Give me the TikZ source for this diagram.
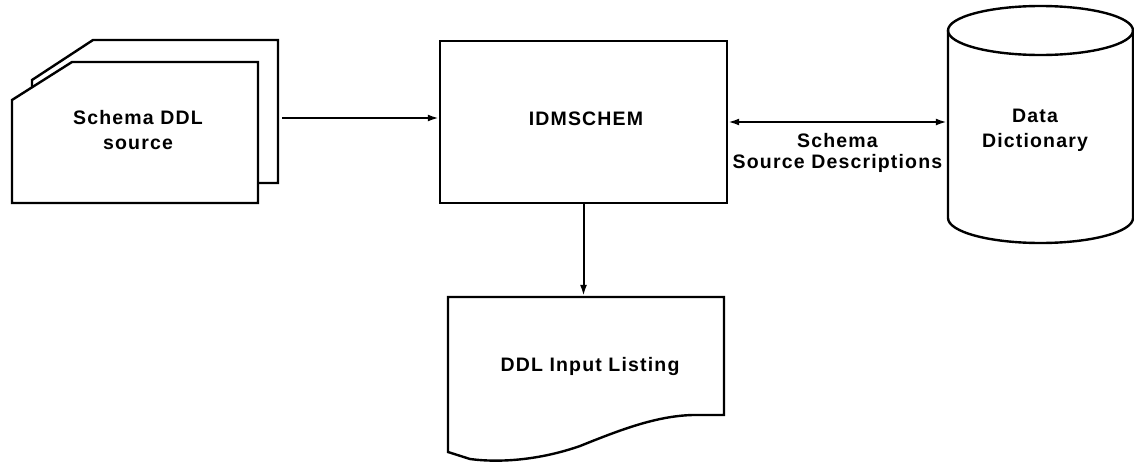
\documentclass[tikz,border=0pt]{standalone}
\usepackage{fontspec}
\setmainfont{Liberation Sans}[LetterSpace=6]
\usetikzlibrary{arrows.meta}
\begin{document}
\begin{tikzpicture}[x=1pt,y=-1pt,
  line width=2.4pt,
  lbl/.style={font=\fontsize{19.5}{25}\selectfont\bfseries, align=center, inner sep=0pt},
  box/.style={draw, minimum width=287pt, minimum height=162pt, inner sep=0pt},
  ghost/.style={inner sep=0pt},
  arr/.style={-{Latex[length=11pt,width=7pt]}, line width=2pt}]
\useasboundingbox (0,0) rectangle (1134,461);
% source card stack
\filldraw[fill=white] (32,80) -- (93,40) -- (278,40) -- (278,183) -- (32,183) -- cycle;
\filldraw[fill=white] (12,100) -- (72,62) -- (258,62) -- (258,203) -- (12,203) -- cycle;
\node[lbl] (src) at (138,130) {Schema DDL\\source};
\coordinate (srcout) at (282,118);
% IDMSCHEM
\node[box] (idms) at (583.5,122) {};
\node[lbl] (idmstext) at (586,119) {IDMSCHEM};
% data dictionary cylinder
\fill[white] (948,30) -- (948,218) arc[start angle=180, end angle=0, x radius=92.5, y radius=25] -- (1133,30) -- cycle;
\draw (948,30) -- (948,218) arc[start angle=180, end angle=0, x radius=92.5, y radius=25] -- (1133,30);
\draw (1040.5,30.5) ellipse[x radius=92.5, y radius=24.5];
\node[ghost, minimum width=185pt, minimum height=237pt] (dd) at (1040.5,124.5) {};
\node[lbl] (ddtext) at (1035,130) {Data\\Dictionary};
% document
\filldraw[fill=white] (448,297) -- (724,297) -- (724,415) -- (700,415)
  .. controls (660,414) and (620,430) .. (580,446)
  .. controls (540,460) and (500,463) .. (470,459) -- (448,452) -- cycle;
\node[ghost, minimum width=276pt, minimum height=138pt] (doc) at (586,366) {};
\node[lbl] (doctext) at (590,366) {DDL Input Listing};
% connectors
\draw[arr] (srcout) -- (srcout -| idms.west);
\draw[arr, {Latex[length=11pt,width=7pt]}-{Latex[length=11pt,width=7pt]}] (idms.east) -- (idms.east -| dd.west)
  node[lbl, font=\fontsize{19.5}{21}\selectfont\bfseries, midway, below=10pt] (desc) {Schema\\Source Descriptions};
\draw[arr] (idms.south) -- (idms.south |- doc.north);
\end{tikzpicture}
\end{document}
